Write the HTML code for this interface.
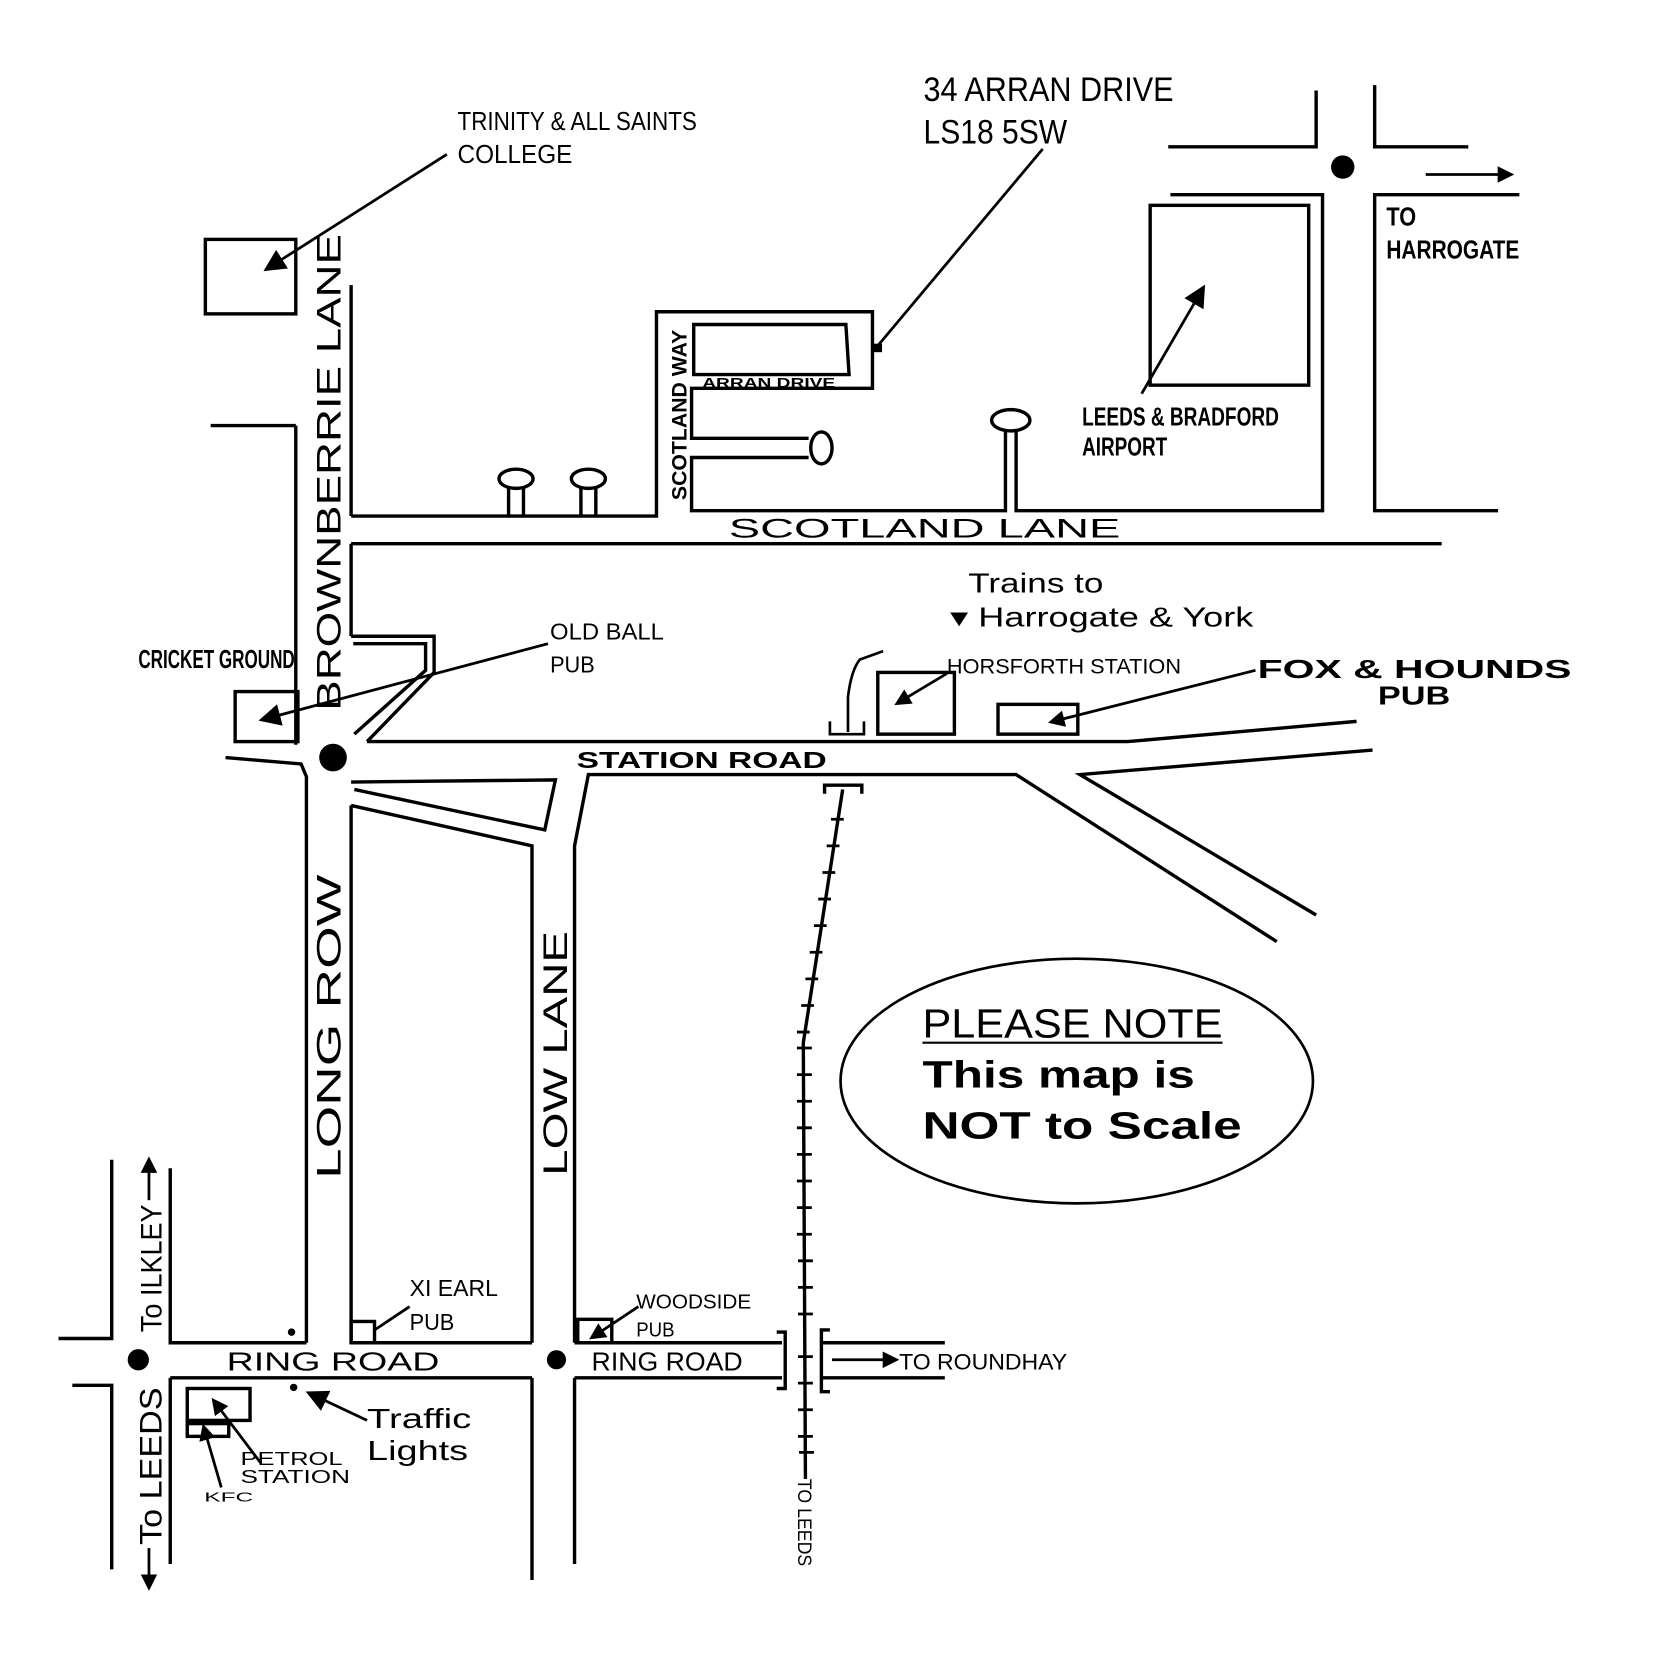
<!DOCTYPE html>
<html><head><style>html,body{margin:0;padding:0;background:#fff}svg{display:block}</style></head>
<body>
<svg width="1663" height="1663" viewBox="0 0 1563 1563" xmlns="http://www.w3.org/2000/svg" font-family="Liberation Sans, sans-serif">
<defs><marker id="ah" markerWidth="8" markerHeight="8" refX="6" refY="4" orient="auto" markerUnits="strokeWidth"><path d="M0,0 L8,4 L0,8 z" fill="#000"/></marker>
<marker id="ab" markerWidth="6" markerHeight="6" refX="4" refY="3" orient="auto" markerUnits="strokeWidth"><path d="M0,0 L6,3 L0,6 z" fill="#000"/></marker></defs>
<g stroke="#000" stroke-width="3.2" fill="none">
<polyline points="1098,138 1237,138 1237,85"/>
<polyline points="1292,80 1292,138 1380,138"/>
<polyline points="1100,183 1243,183 1243,480 955,480 955,404"/>
<polyline points="945,404 945,480 650,480 650,430 760,430"/>
<polyline points="760,412 650,412 650,365 820,365 820,293 617,293 617,485 330,485"/>
<polygon points="652,305 795,305 798,352 652,352"/>
<rect x="1081" y="193" width="149" height="169"/>
<polyline points="1428,183 1292,183 1292,480 1408,480"/>
<line x1="330" y1="511" x2="1355" y2="511"/>
<polyline points="478,485 478,458"/><polyline points="492,485 492,458"/>
<ellipse cx="485" cy="450" rx="16" ry="9"/>
<polyline points="546,485 546,458"/><polyline points="560,485 560,458"/>
<ellipse cx="553" cy="450" rx="16" ry="9"/>
<ellipse cx="950" cy="395" rx="18" ry="10"/>
<ellipse cx="772" cy="421" rx="10" ry="15"/>
<line x1="198" y1="400" x2="278" y2="400"/>
<line x1="278" y1="400" x2="278" y2="700"/>
<line x1="330" y1="268" x2="330" y2="485"/>
<line x1="330" y1="511" x2="330" y2="598"/>
<rect x="193" y="225" width="85" height="70"/>
<polyline points="330,598 408,598 408,632 345,697"/>
<polyline points="332,605 400,605 400,630 333,690"/>
<rect x="221" y="650" width="59" height="47"/>
<polyline points="345,697 1060,697 1275,678"/>
<polyline points="212,712 283,718 288,730 288,1262"/>
<polyline points="330,735 522,733 512,780 333,742"/>
<polyline points="330,757 500,795 500,1262"/>
<polyline points="540,1262 540,795 553,728 955,728 1200,885"/>
<polyline points="1237,860 1015,728 1290,705"/>
<line x1="330" y1="757" x2="330" y2="1262"/>
<polyline points="160,1098 160,1262 288,1262"/>
<line x1="330" y1="1262" x2="500" y2="1262"/>
<line x1="540" y1="1262" x2="735" y2="1262"/>
<line x1="160" y1="1295" x2="500" y2="1295"/>
<line x1="540" y1="1295" x2="735" y2="1295"/>
<polyline points="55,1258 105,1258 105,1090"/>
<polyline points="68,1302 105,1302 105,1475"/>
<line x1="160" y1="1295" x2="160" y2="1470"/>
<line x1="500" y1="1295" x2="500" y2="1485"/>
<line x1="540" y1="1295" x2="540" y2="1470"/>
<line x1="772" y1="1262" x2="888" y2="1262"/>
<line x1="772" y1="1295" x2="888" y2="1295"/>
<polyline points="730,1252 738,1252 738,1305 730,1305"/>
<polyline points="780,1250 772,1250 772,1308 780,1308"/>
<polyline points="792,742 755,980 757,1390"/>
<polyline points="775,746 775,738 810,738 810,746"/>
<path d="M797,688 L797,655 Q800,630 808,620 L830,612" stroke-width="2.5"/>
<polyline points="780,678 780,690 812,690 812,678" stroke-width="2.5"/>
<rect x="825" y="632" width="72" height="58"/>
<rect x="938" y="662" width="75" height="28"/>
<ellipse cx="1012" cy="1016" rx="222" ry="115" stroke-width="2.5"/>
<rect x="330" y="1242" width="22" height="20"/>
<rect x="543" y="1240" width="32" height="22"/>
<rect x="176" y="1305" width="59" height="30"/>
<rect x="176" y="1338" width="39" height="12"/>
</g>
<g stroke="#000" stroke-width="2.6" fill="none">
<path d="M781,770 h12 M777,795 h12 M773,820 h12 M769,845 h12 M765,870 h12 M761,895 h12 M757,920 h12 M753,945 h12 M749,970 h12 M749,985 h14 M749,1010 h14 M749,1035 h14 M749,1060 h14 M749,1085 h14 M749,1110 h14 M749,1135 h14 M749,1160 h14 M750,1185 h14 M750,1210 h14 M750,1235 h14 M750,1275 h14 M750,1300 h14 M750,1325 h14 M750,1350 h14 M751,1365 h14"/>
<line x1="420" y1="145" x2="252" y2="252" marker-end="url(#ah)"/>
<polyline points="980,140 825,325"/>
<line x1="1073" y1="370" x2="1130" y2="272" marker-end="url(#ah)"/>
<line x1="1340" y1="164" x2="1418" y2="164" marker-end="url(#ab)"/>
<line x1="515" y1="605" x2="248" y2="676" marker-end="url(#ah)"/>
<line x1="890" y1="633" x2="845" y2="660" marker-end="url(#ab)"/>
<line x1="1180" y1="630" x2="990" y2="678" marker-end="url(#ab)"/>
<line x1="385" y1="1228" x2="352" y2="1250"/>
<line x1="600" y1="1228" x2="558" y2="1256" marker-end="url(#ab)"/>
<line x1="245" y1="1375" x2="202" y2="1318" marker-end="url(#ab)"/>
<line x1="208" y1="1398" x2="192" y2="1343" marker-end="url(#ab)"/>
<line x1="345" y1="1335" x2="292" y2="1310" marker-end="url(#ah)"/>
<line x1="782" y1="1278" x2="840" y2="1278" marker-end="url(#ab)"/>
<line x1="140" y1="1128" x2="140" y2="1092" marker-end="url(#ab)"/>
<line x1="140" y1="1455" x2="140" y2="1490" marker-end="url(#ab)"/>
</g>
<rect x="821" y="323" width="8" height="8" fill="#000"/>
<g fill="#000">
<circle cx="1262" cy="157" r="11"/><circle cx="313" cy="712" r="13"/>
<circle cx="130" cy="1278" r="10"/><circle cx="523" cy="1278" r="9"/>
<circle cx="274" cy="1252" r="3.5"/><circle cx="276" cy="1304" r="3.5"/>
</g>
<g fill="#000">
<text x="430" y="122" font-size="24" textLength="225" lengthAdjust="spacingAndGlyphs">TRINITY &amp; ALL SAINTS</text>
<text x="430" y="153" font-size="24" textLength="108" lengthAdjust="spacingAndGlyphs">COLLEGE</text>
<text x="868" y="95" font-size="32" textLength="235" lengthAdjust="spacingAndGlyphs">34 ARRAN DRIVE</text>
<text x="868" y="135" font-size="32" textLength="135" lengthAdjust="spacingAndGlyphs">LS18 5SW</text>
<text x="1303" y="212" font-size="24" font-weight="bold" textLength="28" lengthAdjust="spacingAndGlyphs">TO</text>
<text x="1303" y="243" font-size="24" font-weight="bold" textLength="125" lengthAdjust="spacingAndGlyphs">HARROGATE</text>
<text x="1017" y="400" font-size="24" font-weight="bold" textLength="185" lengthAdjust="spacingAndGlyphs">LEEDS &amp; BRADFORD</text>
<text x="1017" y="428" font-size="24" font-weight="bold" textLength="80" lengthAdjust="spacingAndGlyphs">AIRPORT</text>
<text x="660" y="364" font-size="13" font-weight="bold" textLength="125" lengthAdjust="spacingAndGlyphs">ARRAN DRIVE</text>
<text transform="translate(645,470) rotate(-90)" font-size="20" font-weight="bold" textLength="160" lengthAdjust="spacingAndGlyphs">SCOTLAND WAY</text>
<text transform="translate(320,668) rotate(-90)" font-size="32" textLength="448" lengthAdjust="spacingAndGlyphs">BROWNBERRIE LANE</text>
<text x="685" y="505" font-size="25" textLength="368" lengthAdjust="spacingAndGlyphs">SCOTLAND LANE</text>
<text x="910" y="557" font-size="26" textLength="127" lengthAdjust="spacingAndGlyphs">Trains to</text>
<text x="893" y="589" font-size="26" textLength="285" lengthAdjust="spacingAndGlyphs">▾ Harrogate &amp; York</text>
<text x="517" y="601" font-size="22" textLength="107" lengthAdjust="spacingAndGlyphs">OLD BALL</text>
<text x="517" y="632" font-size="22" textLength="42" lengthAdjust="spacingAndGlyphs">PUB</text>
<text x="130" y="628" font-size="24" font-weight="bold" textLength="147" lengthAdjust="spacingAndGlyphs">CRICKET GROUND</text>
<text x="890" y="633" font-size="20" textLength="220" lengthAdjust="spacingAndGlyphs">HORSFORTH STATION</text>
<text x="1182" y="637" font-size="24" font-weight="bold" textLength="295" lengthAdjust="spacingAndGlyphs">FOX &amp; HOUNDS</text>
<text x="1295" y="662" font-size="24" font-weight="bold" textLength="68" lengthAdjust="spacingAndGlyphs">PUB</text>
<text x="542" y="722" font-size="22" font-weight="bold" textLength="235" lengthAdjust="spacingAndGlyphs">STATION ROAD</text>
<text transform="translate(320,1108) rotate(-90)" font-size="32" textLength="286" lengthAdjust="spacingAndGlyphs">LONG ROW</text>
<text transform="translate(533,1105) rotate(-90)" font-size="32" textLength="230" lengthAdjust="spacingAndGlyphs">LOW LANE</text>
<text x="867" y="975" font-size="38" textLength="282" lengthAdjust="spacingAndGlyphs">PLEASE NOTE</text>
<rect x="867" y="979" width="282" height="2"/>
<text x="867" y="1022" font-size="36" font-weight="bold" textLength="256" lengthAdjust="spacingAndGlyphs">This map is</text>
<text x="867" y="1070" font-size="36" font-weight="bold" textLength="300" lengthAdjust="spacingAndGlyphs">NOT to Scale</text>
<text x="385" y="1218" font-size="22" textLength="83" lengthAdjust="spacingAndGlyphs">XI EARL</text>
<text x="385" y="1250" font-size="22" textLength="42" lengthAdjust="spacingAndGlyphs">PUB</text>
<text x="598" y="1230" font-size="19" textLength="108" lengthAdjust="spacingAndGlyphs">WOODSIDE</text>
<text x="598" y="1256" font-size="19" textLength="36" lengthAdjust="spacingAndGlyphs">PUB</text>
<text x="213" y="1288" font-size="24" textLength="200" lengthAdjust="spacingAndGlyphs">RING ROAD</text>
<text x="556" y="1288" font-size="24" textLength="142" lengthAdjust="spacingAndGlyphs">RING ROAD</text>
<text x="845" y="1287" font-size="21" textLength="158" lengthAdjust="spacingAndGlyphs">TO ROUNDHAY</text>
<text x="345" y="1342" font-size="26" textLength="98" lengthAdjust="spacingAndGlyphs">Traffic</text>
<text x="345" y="1372" font-size="26" textLength="95" lengthAdjust="spacingAndGlyphs">Lights</text>
<text x="226" y="1377" font-size="17" textLength="96" lengthAdjust="spacingAndGlyphs">PETROL</text>
<text x="226" y="1394" font-size="17" textLength="103" lengthAdjust="spacingAndGlyphs">STATION</text>
<text x="192" y="1411" font-size="12" textLength="46" lengthAdjust="spacingAndGlyphs">KFC</text>
<text transform="translate(750,1390) rotate(90)" font-size="18" textLength="82" lengthAdjust="spacingAndGlyphs">TO LEEDS</text>
<text transform="translate(152,1252) rotate(-90)" font-size="28" textLength="120" lengthAdjust="spacingAndGlyphs">To ILKLEY</text>
<text transform="translate(152,1452) rotate(-90)" font-size="30" textLength="148" lengthAdjust="spacingAndGlyphs">To LEEDS</text>
</g>
</svg>
</body></html>
